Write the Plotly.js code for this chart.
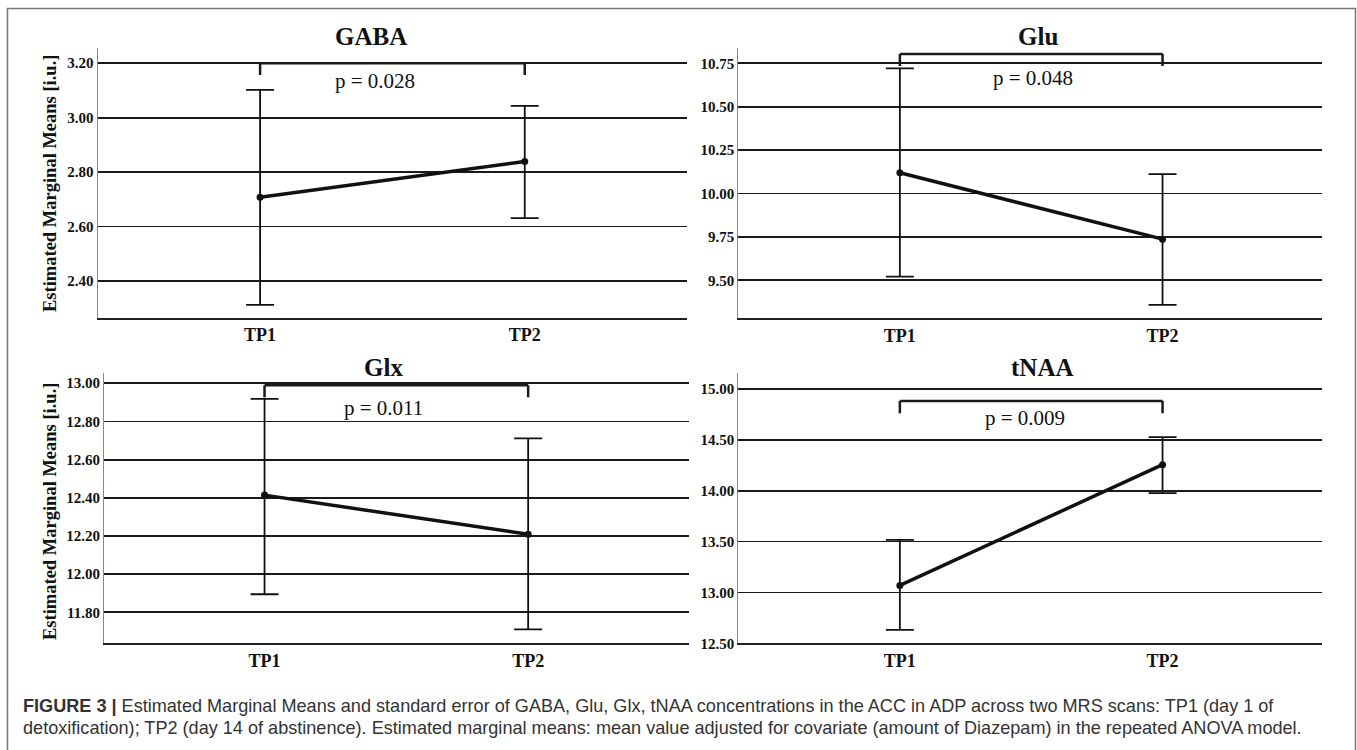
<!DOCTYPE html>
<html>
<head>
<meta charset="utf-8">
<script src="https://cdn.plot.ly/plotly-3.0.1.min.js"></script>
<style>html,body{margin:0;padding:0;background:#fff;}#chart{width:1357px;height:750px;}</style>
</head>
<body>
<div id="chart"></div>
<script>
// ---- data ----
const categories = ['TP1', 'TP2'];
const panelNames = ['GABA', 'Glu', 'Glx', 'tNAA'];

const gabaMean  = [2.708, 2.839];
const gabaUpper = [3.102, 3.043];
const gabaLower = [2.312, 2.631];

const gluMean  = [10.119, 9.737];
const gluUpper = [10.721, 10.111];
const gluLower = [9.521, 9.358];

const glxMean  = [12.414, 12.209];
const glxUpper = [12.918, 12.711];
const glxLower = [11.895, 11.711];

const tnaaMean  = [13.069, 14.256];
const tnaaUpper = [13.517, 14.526];
const tnaaLower = [12.631, 13.976];

const pLabels = ['p = 0.028', 'p = 0.048', 'p = 0.011', 'p = 0.009'];
const bracketTop = [3.20, 10.804, 12.99, 14.882];
const bracketLegEnd = [3.157, 10.734, 12.927, 14.761];

const gabaTicks = [2.40, 2.60, 2.80, 3.00, 3.20];
const gluTicks  = [9.50, 9.75, 10.00, 10.25, 10.50, 10.75];
const glxTicks  = [11.80, 12.00, 12.20, 12.40, 12.60, 12.80, 13.00];
const tnaaTicks = [12.50, 13.00, 13.50, 14.00, 14.50, 15.00];

const yTitle = 'Estimated Marginal Means [i.u.]';
const captionLine1 = '<b>FIGURE 3 |</b> Estimated Marginal Means and standard error of GABA, Glu, Glx, tNAA concentrations in the ACC in ADP across two MRS scans: TP1 (day 1 of';
const captionLine2 = 'detoxification); TP2 (day 14 of abstinence). Estimated marginal means: mean value adjusted for covariate (amount of Diazepam) in the repeated ANOVA model.';

// ---- layout helpers ----
const W = 1357, H = 750;
const fx = p => p / W;
const fy = p => 1 - p / H;
const SERIF = 'Liberation Serif, Times New Roman, serif';

const means = [gabaMean, gluMean, glxMean, tnaaMean];
const uppers = [gabaUpper, gluUpper, glxUpper, tnaaUpper];
const lowers = [gabaLower, gluLower, glxLower, tnaaLower];
const ticks = [gabaTicks, gluTicks, glxTicks, tnaaTicks];

const panels = [
  {xd: [97.6, 686.7], yd: [48, 318],   xr: [-0.614, 1.612], yr: [2.264, 3.256],  title: [370.8, 36.7], pX: 0.434, pY: 3.133},
  {xd: [738.3, 1322], yd: [48, 318.3], xr: [-0.615, 1.607], yr: [9.281, 10.838], title: [1038.4, 36.7], pX: 0.506, pY: 10.667},
  {xd: [104, 688.7],  yd: [373.3, 643.3], xr: [-0.609, 1.609], yr: [11.638, 13.052], title: [383.8, 367], pX: 0.452, pY: 12.872},
  {xd: [738.3, 1322], yd: [373.3, 643.3], xr: [-0.615, 1.607], yr: [12.50, 15.154], title: [1042.7, 368], pX: 0.475, pY: 14.71}
];

const traces = [];
const layout = {
  width: W, height: H,
  margin: {l: 0, r: 0, t: 0, b: 0},
  paper_bgcolor: '#fff', plot_bgcolor: '#fff',
  showlegend: false,
  shapes: [], annotations: []
};

panels.forEach((p, i) => {
  const s = i === 0 ? '' : String(i + 1);
  traces.push({
    type: 'scatter', mode: 'lines+markers',
    x: categories, y: means[i],
    xaxis: 'x' + s, yaxis: 'y' + s,
    line: {color: '#111', width: 3.5},
    marker: {color: '#111', size: 7},
    error_y: {
      type: 'data', symmetric: false,
      array: uppers[i].map((u, k) => u - means[i][k]),
      arrayminus: means[i].map((m, k) => m - lowers[i][k]),
      color: '#111', thickness: 1.8, width: 14
    },
    hoverinfo: 'skip'
  });
  layout['xaxis' + s] = {
    domain: [fx(p.xd[0]), fx(p.xd[1])], anchor: 'y' + s,
    type: 'category', range: p.xr, showgrid: false, zeroline: false,
    showline: true, linecolor: '#222', linewidth: 1.8, ticks: '',
    tickfont: {family: SERIF, size: 18, color: '#111', weight: 'bold'}
  };
  layout['yaxis' + s] = {
    domain: [fy(p.yd[1]), fy(p.yd[0])], anchor: 'x' + s,
    range: p.yr, tickmode: 'array', tickvals: ticks[i],
    ticktext: ticks[i].map(v => v.toFixed(2)),
    showgrid: true, gridcolor: '#1a1a1a', gridwidth: 1.8, zeroline: false,
    showline: true, linecolor: '#888', linewidth: 1, ticks: '',
    tickfont: {family: SERIF, size: 15, color: '#111', weight: 'bold'}
  };
  // significance bracket
  const br = {xref: 'x' + s, yref: 'y' + s, type: 'line', line: {color: '#1a1a1a', width: 2.5}};
  layout.shapes.push(Object.assign({}, br, {x0: categories[0], x1: categories[0], y0: bracketLegEnd[i], y1: bracketTop[i]}));
  layout.shapes.push(Object.assign({}, br, {x0: categories[0], x1: categories[1], y0: bracketTop[i], y1: bracketTop[i]}));
  layout.shapes.push(Object.assign({}, br, {x0: categories[1], x1: categories[1], y0: bracketTop[i], y1: bracketLegEnd[i]}));
  // p label
  layout.annotations.push({
    xref: 'x' + s, yref: 'y' + s, x: p.pX, y: p.pY, text: pLabels[i], showarrow: false,
    font: {family: SERIF, size: 21, color: '#111'}, xanchor: 'center', yanchor: 'middle'
  });
  // panel title
  layout.annotations.push({
    xref: 'paper', yref: 'paper', x: fx(p.title[0]), y: fy(p.title[1]), text: '<b>' + panelNames[i] + '</b>',
    showarrow: false, font: {family: SERIF, size: 25, color: '#111'}, xanchor: 'center', yanchor: 'middle'
  });
});

// y-axis titles (left column)
[184, 512].forEach(cy => {
  layout.annotations.push({
    xref: 'paper', yref: 'paper', x: fx(50), y: fy(cy), text: '<b>' + yTitle + '</b>', textangle: -90,
    showarrow: false, font: {family: SERIF, size: 18.5, color: '#111'}, xanchor: 'center', yanchor: 'middle'
  });
});

// caption
const capFont = {family: 'Liberation Sans, Arial, sans-serif', size: 18.1, color: '#333'};
layout.annotations.push({
  xref: 'paper', yref: 'paper', x: fx(21), y: fy(706), text: captionLine1, showarrow: false,
  xanchor: 'left', yanchor: 'middle', font: capFont
});
layout.annotations.push({
  xref: 'paper', yref: 'paper', x: fx(21), y: fy(728), text: captionLine2, showarrow: false,
  xanchor: 'left', yanchor: 'middle', font: capFont
});

// outer frame (left, top, right)
layout.shapes.push({
  type: 'path', xref: 'paper', yref: 'paper',
  path: `M ${fx(7.5)},0 L ${fx(7.5)},${fy(8.5)} L ${fx(1355.5)},${fy(8.5)} L ${fx(1355.5)},0`,
  line: {color: '#777', width: 1.5}
});

Plotly.newPlot('chart', traces, layout, {displayModeBar: false, staticPlot: true});
</script>
</body>
</html>
